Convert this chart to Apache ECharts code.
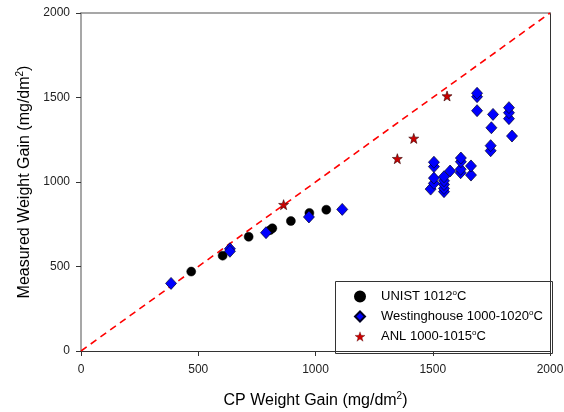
<!DOCTYPE html>
<html>
<head>
<meta charset="utf-8">
<script src="https://cdn.jsdelivr.net/npm/echarts@6/dist/echarts.min.js"></script>
<style>html,body{margin:0;padding:0;background:#fff}#c{width:564px;height:412px}</style>
</head>
<body>
<div id="c"></div>
<script>
var unistX = [470, 604, 715, 806, 816, 895, 974, 1046];
var unistY = [470, 564, 676, 715, 726, 769, 817, 836];
var westX = [384, 635, 635, 789, 972, 1114, 1491, 1505, 1505, 1505, 1505, 1548, 1548, 1548, 1548, 1548, 1574, 1619, 1619, 1620, 1620, 1663, 1663, 1689, 1689, 1689, 1747, 1747, 1750, 1757, 1825, 1825, 1825, 1838];
var westY = [400, 605, 590, 700, 793, 838, 958, 992, 1023, 1091, 1117, 943, 962, 985, 1007, 1031, 1065, 1055, 1075, 1120, 1142, 1041, 1095, 1505, 1525, 1422, 1185, 1215, 1321, 1400, 1375, 1410, 1440, 1272];
var anlX = [864, 1349, 1419, 1561];
var anlY = [866, 1138, 1258, 1509];
var diagLine = [0, 2000];
var seriesNames = ['UNIST 1012°C', 'Westinghouse 1000-1020°C', 'ANL 1000-1015°C'];
var axisTicks = [0, 500, 1000, 1500, 2000];

function pairs(xs, ys) { return xs.map(function (x, i) { return [x, ys[i]]; }); }
var starPath = 'path://M0,-10L2.35,-3.24L9.51,-3.09L3.8,1.24L5.88,8.09L0,4L-5.88,8.09L-3.8,1.24L-9.51,-3.09L-2.35,-3.24Z';
var FONT = '"Liberation Sans", Arial, sans-serif';
var sup = { fontSize: 10, fontFamily: FONT, color: '#000', verticalAlign: 'top', lineHeight: 10 };
var plain = function (v) { return String(v); };

var chart = echarts.init(document.getElementById('c'), null, { renderer: 'canvas' });
chart.setOption({
  animation: false,
  backgroundColor: '#fff',
  grid: { left: 81, top: 13, width: 469, height: 338, show: false, containLabel: false, outerBoundsMode: 'none' },
  graphic: [{
    type: 'rect', left: 333, top: 279, z: 1,
    shape: { width: 217, height: 72 },
    style: { fill: 'none', stroke: '#333', lineWidth: 1 }
  }],
  legend: {
    data: [
      { name: seriesNames[0] },
      { name: seriesNames[1] },
      { name: seriesNames[2], itemStyle: { borderWidth: 0.3 } }
    ],
    orient: 'vertical', left: 354, top: 289, padding: 0,
    itemWidth: 10, itemHeight: 10, itemGap: 5, z: 5, symbolKeepAspect: true,
    formatter: function (n) { return n.replace('°', '{s|o}'); },
    textStyle: {
      fontSize: 13, fontFamily: FONT, color: '#000', lineHeight: 15, padding: [0, 0, 0, 11],
      rich: { s: { fontSize: 8, fontFamily: FONT, color: '#000', verticalAlign: 'top', lineHeight: 8 } }
    }
  },
  xAxis: [{
    type: 'value', min: axisTicks[0], max: axisTicks[axisTicks.length - 1], interval: 500,
    name: 'CP Weight Gain (mg/dm{s|2})', nameLocation: 'middle', nameGap: 40,
    nameTextStyle: { fontSize: 16, fontFamily: FONT, color: '#000', lineHeight: 20, rich: { s: sup } },
    axisLine: { show: true, onZero: false, lineStyle: { color: '#333', width: 1 } },
    axisTick: { show: true, inside: false, length: 5, lineStyle: { color: '#333' } },
    axisLabel: { fontSize: 12, fontFamily: FONT, color: '#222', margin: 13, formatter: plain },
    splitLine: { show: false }
  }, {
    type: 'value', position: 'top', min: 0, max: 2000,
    axisLine: { show: true, onZero: false, lineStyle: { color: '#8a8a8a', width: 1.5 } },
    axisTick: { show: false }, axisLabel: { show: false }, splitLine: { show: false }
  }],
  yAxis: [{
    type: 'value', min: axisTicks[0], max: axisTicks[axisTicks.length - 1], interval: 500,
    name: 'Measured Weight Gain (mg/dm{s|2})', nameLocation: 'middle', nameGap: 46, nameRotate: 90,
    nameMoveOverlap: false,
    nameTextStyle: { fontSize: 16, fontFamily: FONT, color: '#000', lineHeight: 20, rich: { s: sup } },
    axisLine: { show: true, onZero: false, lineStyle: { color: '#8a8a8a', width: 1.5 } },
    axisTick: { show: true, inside: false, length: 5, lineStyle: { color: '#333' } },
    axisLabel: { fontSize: 12, fontFamily: FONT, color: '#222', margin: 11, formatter: plain },
    splitLine: { show: false }
  }, {
    type: 'value', position: 'right', min: 0, max: 2000,
    axisLine: { show: true, onZero: false, lineStyle: { color: '#333', width: 1 } },
    axisTick: { show: false }, axisLabel: { show: false }, splitLine: { show: false }
  }],
  series: [{
    type: 'line', name: 'diag', silent: true, symbol: 'none', z: 2,
    data: [[diagLine[0], diagLine[0]], [diagLine[1], diagLine[1]]],
    lineStyle: { color: '#ff0000', width: 1.6, type: [7, 5] }
  }, {
    type: 'scatter', name: seriesNames[0], symbol: 'circle', symbolSize: 9, z: 3,
    data: pairs(unistX, unistY),
    itemStyle: { color: '#000', borderColor: '#000', borderWidth: 0.5, opacity: 1 }
  }, {
    type: 'scatter', name: seriesNames[1], symbol: 'diamond', symbolSize: [11, 12], z: 4,
    data: pairs(westX, westY),
    itemStyle: { color: '#0000ff', borderColor: '#000022', borderWidth: 0.7, opacity: 1 }
  }, {
    type: 'scatter', name: seriesNames[2], symbol: starPath, symbolSize: 10, z: 4,
    data: pairs(anlX, anlY),
    itemStyle: { color: '#cc0000', borderColor: '#330000', borderWidth: 0.6, opacity: 1 }
  }]
});
</script>
</body>
</html>
